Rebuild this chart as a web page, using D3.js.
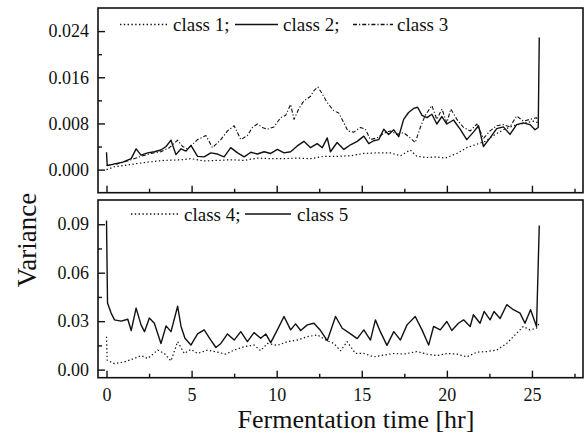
<!DOCTYPE html>
<html>
<head>
<meta charset="utf-8">
<script src="https://cdn.jsdelivr.net/npm/d3@7/dist/d3.min.js"></script>
<style>
  body { margin: 0; background: #fff; }
  svg text { font-family: "Liberation Serif", "Times New Roman", serif; fill: #111; }
</style>
</head>
<body>
<div id="chart"></div>
<script>
// Define SVG area dimensions
var svgWidth = 584;
var svgHeight = 435;

// panel boxes
var left = 98, right = 583;
var topPanel = { top: 8, bottom: 192.7 };
var botPanel = { top: 200, bottom: 377.7 };

// tick values
var xMajor = [0, 5, 10, 15, 20, 25];
var xMinor = [2.5, 7.5, 12.5, 17.5, 22.5, 27.5];
var yTopMajor = [0.000, 0.008, 0.016, 0.024];
var yTopMinor = [0.004, 0.012, 0.020];
var yBotMajor = [0.00, 0.03, 0.06, 0.09];
var yBotMinor = [0.015, 0.045, 0.075];

// series, [time hr, variance]
var class1 = [[0,0.0000],[0.47,0.0005],[1.45,0.0009],[2.42,0.0013],[3.40,0.0016],[4.38,0.0017],[4.96,0.0019],
  [5.74,0.0015],[6.52,0.0016],[7.30,0.0017],[8.09,0.0016],[8.87,0.0020],[9.65,0.0019],[10.43,0.0019],
  [11.21,0.0020],[11.99,0.0019],[12.77,0.0023],[13.55,0.0023],[14.34,0.0024],[15.12,0.0028],[15.90,0.0029],
  [16.68,0.0029],[17.27,0.0024],[17.85,0.0034],[18.24,0.0023],[18.83,0.0021],[19.41,0.0022],[19.90,0.0020],
  [20.59,0.0028],[21.17,0.0038],[21.76,0.0044],[22.25,0.0049],[22.73,0.0059],[23.32,0.0069],[23.91,0.0076],
  [24.49,0.0080],[25.08,0.0084],[25.39,0.0081]];

var class2 = [[0,0.0030],[0.04,0.0007],[0.47,0.0010],[0.96,0.0013],[1.45,0.0019],[1.74,0.0036],[2.03,0.0025],
  [2.42,0.0029],[2.81,0.0031],[3.20,0.0034],[3.50,0.0040],[3.79,0.0051],[4.08,0.0026],[4.38,0.0036],[4.67,0.0032],
  [4.96,0.0042],[5.35,0.0023],[5.74,0.0022],[6.13,0.0029],[6.52,0.0027],[6.91,0.0022],[7.30,0.0038],[7.70,0.0029],
  [8.09,0.0022],[8.48,0.0030],[8.87,0.0027],[9.26,0.0031],[9.65,0.0028],[10.04,0.0035],[10.43,0.0029],[10.82,0.0031],
  [11.21,0.0041],[11.60,0.0049],[11.99,0.0038],[12.38,0.0045],[12.68,0.0038],[12.97,0.0055],[13.16,0.0031],
  [13.55,0.0047],[13.95,0.0035],[14.34,0.0043],[14.73,0.0049],[15.12,0.0058],[15.41,0.0045],[15.70,0.0050],
  [16.00,0.0052],[16.29,0.0070],[16.58,0.0061],[16.88,0.0069],[17.17,0.0057],[17.46,0.0087],[17.75,0.0099],
  [18.05,0.0106],[18.28,0.0108],[18.54,0.0094],[18.83,0.0090],[19.12,0.0096],[19.41,0.0079],[19.71,0.0092],
  [20.00,0.0079],[20.39,0.0086],[20.78,0.0070],[21.17,0.0052],[21.56,0.0065],[21.86,0.0076],[22.15,0.0040],
  [22.54,0.0055],[22.93,0.0071],[23.32,0.0074],[23.71,0.0061],[24.10,0.0078],[24.49,0.0081],[24.88,0.0078],
  [25.18,0.0069],[25.37,0.0073],[25.43,0.0229]];

var class3 = [[0,0.0007],[0.66,0.0010],[1.45,0.0017],[2.03,0.0023],[2.62,0.0028],[3.20,0.0031],[3.69,0.0038],
  [4.18,0.0051],[4.47,0.0040],[4.77,0.0036],[5.06,0.0044],[5.35,0.0052],[5.84,0.0059],[6.23,0.0038],[6.72,0.0052],
  [7.11,0.0067],[7.50,0.0076],[7.89,0.0052],[8.28,0.0059],[8.57,0.0073],[8.87,0.0079],[9.16,0.0073],[9.45,0.0070],
  [9.84,0.0074],[10.23,0.0090],[10.53,0.0094],[10.82,0.0113],[11.02,0.0087],[11.31,0.0106],[11.60,0.0119],
  [11.99,0.0127],[12.19,0.0137],[12.42,0.0143],[12.62,0.0134],[12.97,0.0116],[13.36,0.0102],[13.65,0.0098],
  [13.95,0.0081],[14.18,0.0067],[14.53,0.0065],[14.92,0.0073],[15.21,0.0070],[15.51,0.0052],[15.90,0.0055],
  [16.29,0.0063],[16.68,0.0067],[17.07,0.0061],[17.46,0.0064],[17.85,0.0055],[18.14,0.0047],[18.44,0.0073],
  [18.73,0.0094],[19.12,0.0111],[19.41,0.0087],[19.71,0.0105],[20.00,0.0081],[20.23,0.0105],[20.59,0.0087],
  [20.98,0.0073],[21.37,0.0067],[21.76,0.0079],[22.15,0.0054],[22.54,0.0067],[22.93,0.0076],[23.32,0.0078],
  [23.71,0.0074],[24.10,0.0093],[24.49,0.0084],[24.88,0.0087],[25.27,0.0090],[25.43,0.0081]];

var class4 = [[0,0.0204],[0.04,0.0058],[0.47,0.0037],[1.05,0.0048],[1.64,0.0069],[2.03,0.0087],[2.42,0.0069],
  [3.01,0.0121],[3.40,0.0100],[3.79,0.0054],[4.18,0.0173],[4.57,0.0100],[4.96,0.0125],[5.35,0.0100],[5.94,0.0121],
  [6.52,0.0108],[7.01,0.0096],[7.50,0.0121],[8.09,0.0142],[8.67,0.0152],[9.06,0.0117],[9.45,0.0162],[10.04,0.0150],
  [10.63,0.0173],[11.21,0.0183],[11.80,0.0204],[12.38,0.0215],[12.97,0.0179],[13.36,0.0162],[13.75,0.0117],
  [14.14,0.0173],[14.63,0.0100],[15.12,0.0100],[15.70,0.0079],[16.29,0.0090],[16.88,0.0100],[17.46,0.0096],
  [18.24,0.0112],[18.83,0.0096],[19.41,0.0087],[20.00,0.0100],[20.59,0.0096],[21.17,0.0079],[21.76,0.0108],
  [22.34,0.0112],[22.93,0.0121],[23.52,0.0162],[24.10,0.0225],[24.49,0.0267],[24.88,0.0246],[25.27,0.0256],
  [25.43,0.0287]];

var class5 = [[0,0.0923],[0.06,0.0412],[0.27,0.0350],[0.47,0.0308],[0.86,0.0300],[1.25,0.0312],[1.45,0.0242],
  [1.74,0.0381],[2.03,0.0277],[2.23,0.0235],[2.52,0.0319],[2.81,0.0287],[3.20,0.0162],[3.50,0.0271],[3.79,0.0235],
  [4.18,0.0392],[4.38,0.0267],[4.61,0.0194],[4.96,0.0152],[5.35,0.0221],[5.74,0.0246],[6.13,0.0183],[6.43,0.0137],
  [6.72,0.0162],[7.11,0.0221],[7.50,0.0183],[7.89,0.0235],[8.28,0.0173],[8.67,0.0229],[9.06,0.0194],[9.36,0.0221],
  [9.65,0.0167],[10.04,0.0246],[10.43,0.0329],[10.82,0.0246],[11.11,0.0283],[11.41,0.0242],[11.80,0.0277],
  [12.19,0.0287],[12.58,0.0242],[12.97,0.0179],[13.46,0.0329],[13.85,0.0256],[14.34,0.0221],[14.73,0.0192],
  [15.12,0.0246],[15.51,0.0183],[15.80,0.0308],[16.09,0.0235],[16.48,0.0150],[16.88,0.0235],[17.27,0.0183],
  [17.66,0.0277],[18.14,0.0329],[18.54,0.0246],[18.93,0.0152],[19.22,0.0267],[19.61,0.0246],[20.00,0.0298],
  [20.29,0.0242],[20.68,0.0287],[20.98,0.0308],[21.37,0.0267],[21.56,0.0340],[21.95,0.0287],[22.19,0.0360],
  [22.54,0.0308],[22.77,0.0360],[23.13,0.0317],[23.52,0.0402],[23.91,0.0371],[24.30,0.0350],[24.59,0.0287],
  [24.92,0.0371],[25.27,0.0267],[25.43,0.0892]];

// line styles
var dotted = "1.4,2.4";
var dashDot = "4,2,1.2,2";
var serif = "'Liberation Serif', 'Times New Roman', serif";

var svg = d3.select("#chart")
  .append("svg")
  .attr("width", svgWidth)
  .attr("height", svgHeight)
  .attr("font-family", serif);

// scales
var xScale = d3.scaleLinear().domain([-0.5, 28]).range([left, right]);
var yTop = d3.scaleLinear().domain([-0.004, 0.028]).range([topPanel.bottom, topPanel.top]);
var yBot = d3.scaleLinear().domain([-0.005, 0.105]).range([botPanel.bottom, botPanel.top]);

function drawPanel(panel, yScale, majors, minors, fmt, showX) {
  // x ticks (inward)
  svg.append("g").attr("transform", "translate(0," + panel.bottom + ")")
    .call(d3.axisBottom(xScale).tickValues(xMajor).tickSizeInner(-7).tickSizeOuter(0)
      .tickPadding(11).tickFormat(showX ? d3.format("d") : ""));
  svg.append("g").attr("transform", "translate(0," + panel.bottom + ")")
    .call(d3.axisBottom(xScale).tickValues(xMinor).tickSizeInner(-4).tickSizeOuter(0).tickFormat(""));

  // y ticks (inward)
  svg.append("g").attr("transform", "translate(" + left + ",0)")
    .call(d3.axisLeft(yScale).tickValues(majors).tickSizeInner(-7).tickSizeOuter(0)
      .tickPadding(9).tickFormat(fmt));
  svg.append("g").attr("transform", "translate(" + left + ",0)")
    .call(d3.axisLeft(yScale).tickValues(minors).tickSizeInner(-4).tickSizeOuter(0).tickFormat(""));

  // frame
  svg.append("rect")
    .attr("x", left).attr("y", panel.top)
    .attr("width", right - left).attr("height", panel.bottom - panel.top)
    .attr("fill", "none").attr("stroke", "#111").attr("stroke-width", 1.6);
}

drawPanel(topPanel, yTop, yTopMajor, yTopMinor, d3.format(".3f"), false);
drawPanel(botPanel, yBot, yBotMajor, yBotMinor, d3.format(".2f"), true);

svg.selectAll(".domain").remove();
svg.selectAll("g").attr("font-family", serif);
svg.selectAll(".tick line").attr("stroke", "#111").attr("stroke-width", 1.4);
svg.selectAll(".tick text").attr("font-size", 18).attr("fill", "#111");

// series lines
function addLine(data, yScale, dash, width) {
  var line = d3.line()
    .x(function(d){ return xScale(d[0]); })
    .y(function(d){ return yScale(d[1]); });
  svg.append("path")
    .datum(data)
    .attr("d", line)
    .attr("fill", "none")
    .attr("stroke", "#111")
    .attr("stroke-width", width)
    .attr("stroke-linejoin", "round")
    .attr("stroke-dasharray", dash);
}

addLine(class1, yTop, dotted, 1.2);
addLine(class3, yTop, dashDot, 1.1);
addLine(class2, yTop, null, 1.4);
addLine(class4, yBot, dotted, 1.2);
addLine(class5, yBot, null, 1.4);

// legends
function legendItem(x1, x2, y, dash, label, tx) {
  svg.append("line")
    .attr("x1", x1).attr("x2", x2).attr("y1", y).attr("y2", y)
    .attr("stroke", "#111").attr("stroke-width", 1.3)
    .attr("stroke-dasharray", dash);
  svg.append("text")
    .attr("x", tx).attr("y", y + 6.5)
    .attr("font-size", 19)
    .text(label);
}

legendItem(120, 167, 24.5, dotted, "class 1;", 173);
legendItem(235, 278, 24.5, null, "class 2;", 283);
legendItem(353, 393, 24.5, dashDot, "class 3", 397);
legendItem(131, 180, 214, dotted, "class 4;", 184);
legendItem(245, 291, 214, null, "class 5", 297);

// axis titles
svg.append("text")
  .attr("x", 356).attr("y", 428)
  .attr("text-anchor", "middle")
  .attr("font-size", 26)
  .text("Fermentation time [hr]");

svg.append("text")
  .attr("transform", "translate(36,240) rotate(-90)")
  .attr("text-anchor", "middle")
  .attr("font-size", 27)
  .text("Variance");
</script>
</body>
</html>
